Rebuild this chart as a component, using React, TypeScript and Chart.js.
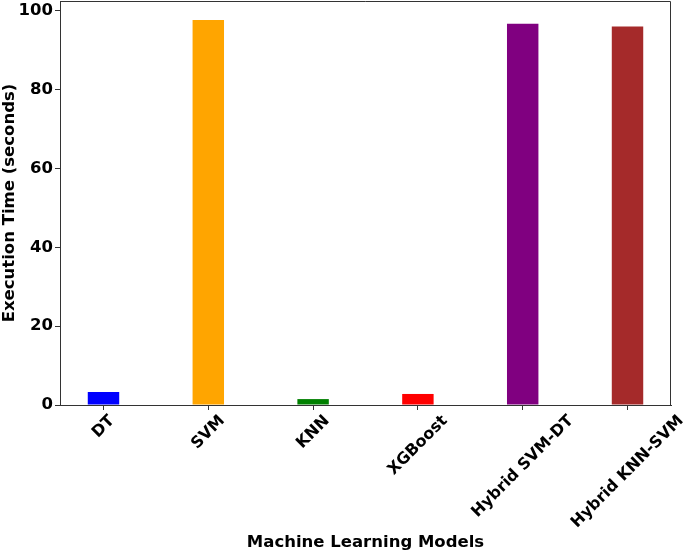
import React, { useRef, useEffect } from 'react';
import { Chart, registerables } from 'chart.js';

Chart.register(...registerables);

const models = ['DT', 'SVM', 'KNN', 'XGBoost', 'Hybrid SVM-DT', 'Hybrid KNN-SVM'];
const execTimes = [3.3, 97.7, 1.5, 2.8, 96.7, 96.0];
const barColors = ['#0000ff', '#ffa500', '#008000', '#ff0000', '#800080', '#a52a2a'];

const FONT = '"DejaVu Sans", sans-serif';

// matplotlib-style frame on top/right + centred rotated x labels
const framePlugin = {
    id: 'mplFrame',
    afterDraw(chart: any) {
        const { ctx, chartArea } = chart;
        ctx.save();
        ctx.strokeStyle = '#333';
        ctx.lineWidth = 1;
        ctx.beginPath();
        ctx.moveTo(chartArea.left, chartArea.top + 0.5);
        ctx.lineTo(chartArea.right - 0.5, chartArea.top + 0.5);
        ctx.lineTo(chartArea.right - 0.5, chartArea.bottom);
        ctx.stroke();

        const xs = chart.scales.x;
        ctx.font = `bold 16px ${FONT}`;
        ctx.fillStyle = '#000';
        ctx.textAlign = 'center';
        ctx.textBaseline = 'middle';
        models.forEach((lab, i) => {
            const x = xs.getPixelForValue(i);
            const w = ctx.measureText(lab).width;
            const boxH = (w + 15) * Math.SQRT1_2;
            const cy = xs.top + 8 + boxH / 2;
            ctx.save();
            ctx.translate(x, cy);
            ctx.rotate(-Math.PI / 4);
            ctx.fillText(lab, 0, 0);
            ctx.restore();
        });
        ctx.restore();
    },
};

const App: React.FC = () => {
    const canvasRef = useRef<HTMLCanvasElement>(null);
    const chartRef = useRef<Chart | null>(null);

    useEffect(() => {
        if (!canvasRef.current) return;
        if (chartRef.current) chartRef.current.destroy();
        chartRef.current = new Chart(canvasRef.current, {
            type: 'bar',
            data: {
                datasets: [{
                    data: execTimes.map((v, i) => ({ x: i, y: v })),
                    backgroundColor: barColors,
                    borderWidth: 0,
                    barPercentage: 0.3,
                    categoryPercentage: 1,
                }],
            },
            options: {
                animation: false,
                responsive: true,
                maintainAspectRatio: false,
                layout: { padding: { top: 1, right: 14, left: 0, bottom: 0 } },
                plugins: { legend: { display: false }, tooltip: { enabled: false } },
                scales: {
                    x: {
                        type: 'linear',
                        min: -0.415,
                        max: 5.415,
                        offset: false,
                        grid: { offset: false, drawOnChartArea: false, drawTicks: true, tickLength: 5, color: '#333' },
                        border: { display: true, color: '#333', width: 1 },
                        ticks: { display: false, stepSize: 1, includeBounds: false },
                        title: {
                            display: true,
                            text: 'Machine Learning Models',
                            color: '#000',
                            padding: 0,
                            font: { family: FONT, size: 16.5, weight: 'bold' },
                        },
                        afterFit: (scale: any) => {
                            scale.height = 148;
                            scale.paddingLeft = 0;
                            scale.paddingRight = 0;
                        },
                    },
                    y: {
                        min: 0,
                        max: 102.5,
                        grid: { drawOnChartArea: false, drawTicks: true, tickLength: 5, color: '#333' },
                        border: { display: true, color: '#333', width: 1 },
                        ticks: {
                            stepSize: 20,
                            includeBounds: false,
                            padding: 2,
                            color: '#000',
                            font: { family: FONT, size: 16.5, weight: 'bold' },
                        },
                        title: {
                            display: true,
                            text: 'Execution Time (seconds)',
                            color: '#000',
                            padding: 0,
                            font: { family: FONT, size: 16.5, weight: 'bold' },
                        },
                        afterFit: (scale: any) => {
                            scale.width = 60;
                            scale.paddingTop = 0;
                            scale.paddingBottom = 0;
                        },
                    },
                },
            },
            plugins: [framePlugin],
        } as any);
        return () => {
            if (chartRef.current) {
                chartRef.current.destroy();
                chartRef.current = null;
            }
        };
    }, []);

    return (
        <div style={{ position: 'absolute', left: 0, top: 0, width: 685, height: 553, background: '#fff' }}>
            <canvas ref={canvasRef}></canvas>
        </div>
    );
};

export default App;
